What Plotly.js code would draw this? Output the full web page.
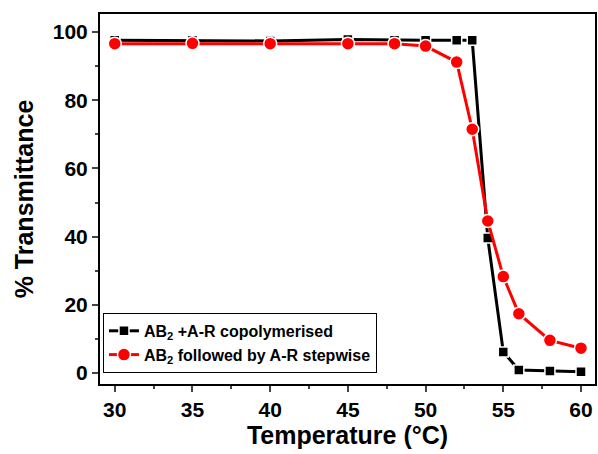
<!DOCTYPE html>
<html><head><meta charset="utf-8">
<script src="https://cdn.plot.ly/plotly-3.0.1.min.js"></script>
<style>html,body{margin:0;padding:0;background:#fff}</style>
</head><body>
<div id="chart" style="width:598px;height:454px"></div>
<script>
var temps = [30, 35, 40, 45, 48, 50, 52, 53, 54, 55, 56, 58, 60];
var copolymerised = [97.6, 97.6, 97.4, 97.8, 97.6, 97.6, 97.6, 97.6, 39.6, 6.2, 0.9, 0.6, 0.4];
var stepwise = [96.6, 96.7, 96.6, 96.6, 96.6, 95.9, 91.2, 71.5, 44.6, 28.3, 17.4, 9.6, 7.3];
var seriesNames = ['AB<sub>2</sub> +A-R copolymerised', 'AB<sub>2</sub> followed by A-R stepwise'];
var xTicks = [30, 35, 40, 45, 50, 55, 60];
var yTicks = [0, 20, 40, 60, 80, 100];

var traces = [
  {x: temps, y: copolymerised, name: seriesNames[0], mode: 'lines+markers', type: 'scatter',
   line: {color: '#000000', width: 3},
   marker: {symbol: 'square', size: 10, color: '#000000', line: {color: '#ffffff', width: 1.5}}},
  {x: temps, y: stepwise, name: seriesNames[1], mode: 'lines+markers', type: 'scatter',
   line: {color: '#ff0000', width: 3},
   marker: {symbol: 'circle', size: 13, color: '#ff0000', line: {color: '#ffffff', width: 1.5}}}
];

var font = {family: 'Liberation Sans, Arial, sans-serif', color: '#000'};
var layout = {
  width: 598, height: 454,
  margin: {l: 100, r: 3, t: 14, b: 70},
  paper_bgcolor: '#fff', plot_bgcolor: '#fff',
  showlegend: true,
  legend: {x: 0.006, y: 0.03, xanchor: 'left', yanchor: 'bottom',
    bordercolor: '#000', borderwidth: 1, bgcolor: '#fff',
    font: {family: font.family, size: 16, color: '#000', weight: 'bold'},
    tracegroupgap: 0, itemwidth: 30},
  xaxis: {range: [29.05, 60.9], tickvals: xTicks, ticks: 'outside', ticklen: 6, tickwidth: 2,
    showline: true, linewidth: 2, linecolor: '#000', mirror: true, showgrid: false, zeroline: false,
    tickfont: {family: font.family, size: 21, color: '#000', weight: 'bold'},
    minor: {dtick: 2.5, tick0: 30, ticks: 'outside', ticklen: 3, tickwidth: 2, showgrid: false},
    title: {text: 'Temperature (°C)', standoff: 6, font: {family: font.family, size: 25, color: '#000', weight: 'bold'}}},
  yaxis: {range: [-3.2, 105.3], tickvals: yTicks, ticks: 'outside', ticklen: 6, tickwidth: 2,
    showline: true, linewidth: 2, linecolor: '#000', mirror: true, showgrid: false, zeroline: false,
    tickfont: {family: font.family, size: 21, color: '#000', weight: 'bold'},
    minor: {dtick: 10, tick0: 0, ticks: 'outside', ticklen: 3, tickwidth: 2, showgrid: false},
    title: {text: '% Transmittance', standoff: 12, font: {family: font.family, size: 25, color: '#000', weight: 'bold'}}}
};
Plotly.newPlot('chart', traces, layout, {displayModeBar: false, staticPlot: true});
</script>
</body></html>
